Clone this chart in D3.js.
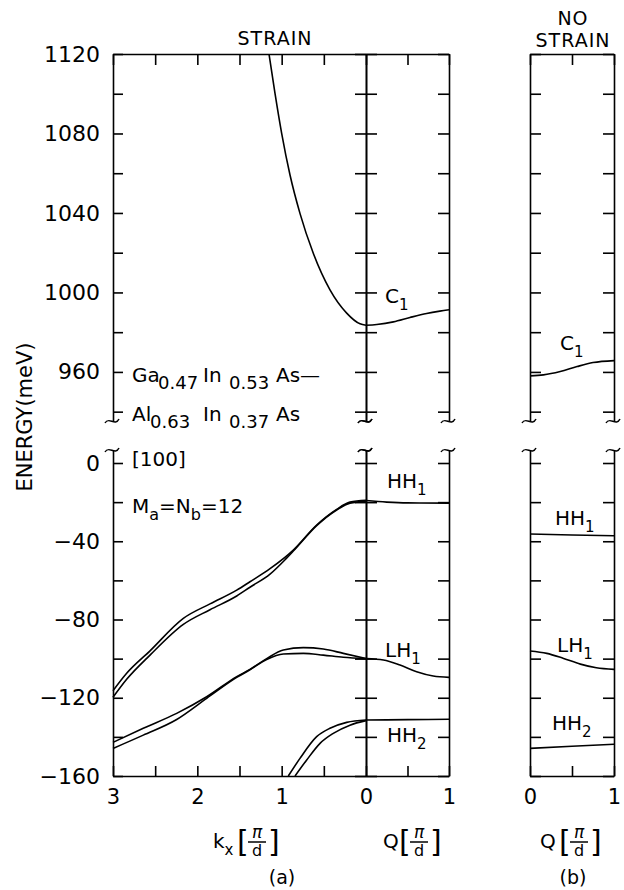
<!DOCTYPE html>
<html>
<head>
<meta charset="utf-8">
<script src="https://cdn.jsdelivr.net/npm/d3@7"></script>
<style>
  body { margin: 0; background: #fff; }
  text { font-family: "DejaVu Sans", sans-serif; fill: #000; }
</style>
</head>
<body>
<div id="chart"></div>
<script>
// tick values
var kxTicks = [3, 2.5, 2, 1.5, 1, 0.5];
var qTicks = [0, 0.5, 1];
var eTopTicks = [940, 960, 980, 1000, 1020, 1040, 1060, 1080, 1100, 1120];
var eBotTicks = [-160, -140, -120, -100, -80, -60, -40, -20, 0];

// (a) strain, along kx : [kx, E meV]
var c1Kx = [[1.15, 1120], [1.079, 1100.2], [1.0, 1080.1], [0.901, 1059.1], [0.783, 1039.8],
            [0.625, 1019.7], [0.427, 1001.3], [0.229, 989.6], [0.071, 984.2], [0, 983.5]];
var hh1KxUp = [[3, -116.4], [2.838, -107.5], [2.561, -96.0], [2.166, -79.4], [1.85, -72.0],
               [1.533, -65.0], [1.376, -60.7], [1.138, -54.0], [0.862, -44.5], [0.585, -31.7],
               [0.348, -23.7], [0.19, -20.0], [0, -19.0]];
var hh1KxLo = [[3, -119.8], [2.838, -110.6], [2.561, -98.2], [2.166, -82.5], [1.85, -75.0],
               [1.533, -68.0], [1.376, -63.5], [1.138, -56.8], [0.95, -49.0], [0.862, -45.0],
               [0.585, -32.0], [0.348, -24.0], [0.19, -20.5], [0, -19.6]];
var lh1KxUp = [[3, -142.8], [2.641, -135.6], [2.245, -128.0], [1.889, -119.5], [1.533, -109.2],
               [1.376, -105.5], [1.178, -100.0], [0.98, -95.6], [0.743, -94.4], [0.506, -95.1],
               [0.269, -97.3], [0, -99.9]];
var lh1KxLo = [[3, -145.9], [2.641, -139.1], [2.245, -131.1], [1.889, -120.3], [1.533, -109.6],
               [1.376, -105.7], [1.178, -100.4], [0.98, -97.6], [0.743, -97.3], [0.506, -98.2],
               [0.269, -99.3], [0, -100.0]];
var hh2KxUp = [[0.921, -160], [0.783, -151.0], [0.585, -139.9], [0.427, -135.6], [0.229, -132.6], [0, -131.4]];
var hh2KxLo = [[0.842, -160], [0.703, -151.8], [0.545, -143.3], [0.388, -138.2], [0.19, -134.0], [0, -131.7]];

// (a) strain, along Q : [Q, E meV]
var c1QStrain = [[0, 983.5], [0.13, 983.9], [0.33, 985.2], [0.53, 987.4], [0.73, 989.4], [0.89, 990.6], [1, 991.3]];
var hh1QStrain = [[0, -19.2], [0.25, -20.0], [0.5, -20.4], [1, -20.5]];
var lh1QStrain = [[0, -99.9], [0.21, -100.7], [0.41, -103.3], [0.61, -106.7], [0.81, -108.9], [1, -109.6]];
var hh2QStrain = [[0, -131.4], [0.5, -131.2], [1, -131.0]];

// (b) no strain, along Q
var c1QFree = [[0, 958.0], [0.16, 958.5], [0.36, 960.2], [0.56, 962.7], [0.75, 964.7], [1, 965.7]];
var hh1QFree = [[0, -36.3], [0.5, -36.8], [1, -37.2]];
var lh1QFree = [[0, -96.1], [0.2, -97.3], [0.4, -99.9], [0.6, -102.8], [0.79, -104.7], [1, -105.5]];
var hh2QFree = [[0, -145.9], [0.5, -144.8], [1, -143.8]];

var svg = d3.select("#chart").append("svg")
  .attr("width", 624)
  .attr("height", 890);

var xK = d3.scaleLinear().domain([3, 0]).range([113, 366]);
var xQa = d3.scaleLinear().domain([0, 1]).range([366, 449]);
var xQb = d3.scaleLinear().domain([0, 1]).range([530, 614]);
var yTop = d3.scaleLinear().domain([935.3, 1120]).range([421, 54]);
var yBot = d3.scaleLinear().domain([-160, 6.65]).range([776, 450]);

function fmtE(d) {
  if (d % 40 !== 0) return "";
  return d < 0 ? "\u2212" + (-d) : String(d);
}
function noLabel() { return ""; }

function styleAxis(g, size) {
  g.selectAll("path, line").attr("stroke", "#000").attr("stroke-width", 1.6);
  g.selectAll("text").attr("fill", "#000");
  g.attr("font-family", "DejaVu Sans, sans-serif").attr("font-size", size);
}

// vertical frame lines with inward ticks, broken between the two energy ranges
function vEdge(x, side, size, labels) {
  [[yTop, eTopTicks], [yBot, eBotTicks]].forEach(function(p) {
    var ax = (side === "left" ? d3.axisLeft(p[0]) : d3.axisRight(p[0]))
      .tickValues(p[1])
      .tickSizeInner(size)
      .tickSizeOuter(0)
      .tickPadding(13)
      .tickFormat(labels ? fmtE : noLabel);
    svg.append("g")
      .attr("transform", "translate(" + x + ",0)")
      .call(ax)
      .call(styleAxis, 22);
  });
  // break marks
  [421, 450].forEach(function(y) {
    svg.append("path")
      .attr("d", "M" + (x - 8) + "," + (y + 2) + " C" + (x - 4) + "," + (y - 5) + " " + (x + 2) + "," + (y + 6) + " " + (x + 6) + "," + (y - 2))
      .attr("fill", "none")
      .attr("stroke", "#000")
      .attr("stroke-width", 1.5);
  });
}

vEdge(113, "left", -10, true);
vEdge(366, "left", 11, false);
vEdge(366, "right", 11, false);
vEdge(449, "right", -11, false);
vEdge(530, "left", -11, false);
vEdge(614, "right", -11, false);

// top and bottom frame lines
function hEdges(xs, ticks, fmt) {
  svg.append("g")
    .attr("transform", "translate(0,54)")
    .call(d3.axisTop(xs).tickValues(ticks).tickSizeInner(-11).tickSizeOuter(0).tickFormat(noLabel))
    .call(styleAxis, 21);
  svg.append("g")
    .attr("transform", "translate(0,776)")
    .call(d3.axisBottom(xs).tickValues(ticks).tickSizeInner(-10).tickSizeOuter(0).tickPadding(13).tickFormat(fmt))
    .call(styleAxis, 21);
}
function intOnly(d) { return Number.isInteger(d) ? d : ""; }
hEdges(xK, kxTicks, intOnly);
hEdges(xQa, qTicks, intOnly);
hEdges(xQb, qTicks, intOnly);

// band curves
function band(data, xs, ys) {
  svg.append("path")
    .datum(data)
    .attr("fill", "none")
    .attr("stroke", "#000")
    .attr("stroke-width", 1.6)
    .attr("d", d3.line()
      .x(function(d) { return xs(d[0]); })
      .y(function(d) { return ys(d[1]); })
      .curve(d3.curveMonotoneX));
}
band(c1Kx, xK, yTop);
band(hh1KxUp, xK, yBot);
band(hh1KxLo, xK, yBot);
band(lh1KxUp, xK, yBot);
band(lh1KxLo, xK, yBot);
band(hh2KxUp, xK, yBot);
band(hh2KxLo, xK, yBot);
band(c1QStrain, xQa, yTop);
band(hh1QStrain, xQa, yBot);
band(lh1QStrain, xQa, yBot);
band(hh2QStrain, xQa, yBot);
band(c1QFree, xQb, yTop);
band(hh1QFree, xQb, yBot);
band(lh1QFree, xQb, yBot);
band(hh2QFree, xQb, yBot);

// text with subscripts; parts = [text, isSub, x (optional)]
function label(x, y, parts, size, subSize) {
  var t = svg.append("text").attr("x", x).attr("y", y).attr("font-size", size);
  var off = 0;
  parts.forEach(function(p) {
    var target = p[1] ? Math.round(size * 0.35) : 0;
    var s = t.append("tspan").text(p[0]).attr("dy", target - off)
      .attr("font-size", p[1] ? subSize : size);
    if (p[2] !== undefined) s.attr("x", p[2]);
    off = target;
  });
}

// curve names
label(385, 303, [["C"], ["1", true]], 20, 15);
label(560, 350, [["C"], ["1", true]], 20, 15);
label(387, 488, [["HH"], ["1", true]], 20, 15);
label(555, 525, [["HH"], ["1", true]], 20, 15);
label(385, 657, [["LH"], ["1", true]], 20, 15);
label(557, 652, [["LH"], ["1", true]], 20, 15);
label(387, 742, [["HH"], ["2", true]], 20, 15);
label(552, 730, [["HH"], ["2", true]], 20, 15);

// structure annotation
label(132, 382, [["Ga", false, 132], ["0.47", true, 158], ["In", false, 203], ["0.53", true, 229], ["As\u2014", false, 276]], 20, 18);
label(132, 421, [["Al", false, 132], ["0.63", true, 150], ["In", false, 203], ["0.37", true, 229], ["As", false, 276]], 20, 18);
label(132, 466, [["[100]"]], 20, 15);
label(132, 513, [["M"], ["a", true], ["=N"], ["b", true], ["=12"]], 20, 16);

// panel titles
svg.append("text").attr("x", 275).attr("y", 45).attr("text-anchor", "middle")
  .attr("font-size", 19).attr("letter-spacing", 1).text("STRAIN");
svg.append("text").attr("x", 573).attr("y", 25).attr("text-anchor", "middle")
  .attr("font-size", 19).attr("letter-spacing", 1).text("NO");
svg.append("text").attr("x", 573).attr("y", 47).attr("text-anchor", "middle")
  .attr("font-size", 19).attr("letter-spacing", 1).text("STRAIN");

// y axis title
svg.append("text")
  .attr("transform", "translate(32,417) rotate(-90)")
  .attr("text-anchor", "middle")
  .attr("font-size", 21)
  .text("ENERGY(meV)");

// x axis titles: symbol[pi/d]
function unitTitle(x, sym, sub, fx) {
  label(x, 848, sub ? [[sym], [sub, true]] : [[sym]], 20, 15);
  svg.append("text").attr("x", fx - 20).attr("y", 852).attr("font-size", 30).text("[");
  svg.append("text").attr("x", fx + 11).attr("y", 852).attr("font-size", 30).text("]");
  svg.append("text").attr("x", fx).attr("y", 838).attr("text-anchor", "middle")
    .attr("font-size", 17).attr("font-style", "italic").text("\u03c0");
  svg.append("line").attr("x1", fx - 9).attr("x2", fx + 9).attr("y1", 842).attr("y2", 842)
    .attr("stroke", "#000").attr("stroke-width", 1.5);
  svg.append("text").attr("x", fx).attr("y", 856).attr("text-anchor", "middle")
    .attr("font-size", 16).text("d");
}
unitTitle(213, "k", "x", 257);
unitTitle(383, "Q", null, 419);
unitTitle(540, "Q", null, 579);

svg.append("text").attr("x", 282).attr("y", 884).attr("text-anchor", "middle")
  .attr("font-size", 19).text("(a)");
svg.append("text").attr("x", 573).attr("y", 884).attr("text-anchor", "middle")
  .attr("font-size", 19).text("(b)");
</script>
</body>
</html>
